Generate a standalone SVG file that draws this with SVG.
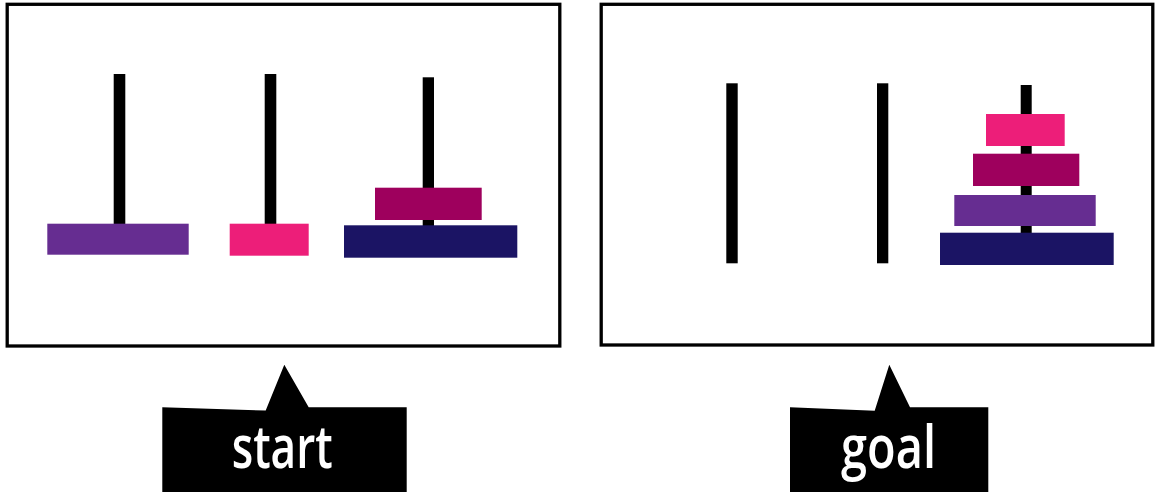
<svg xmlns="http://www.w3.org/2000/svg" width="1155" height="492" viewBox="0 0 1155 492">
  <style>
    .frame { fill: #ffffff; stroke: #000000; stroke-width: 3.3; }
    .peg { fill: #000000; }
    .d-purple { fill: #662D91; }
    .d-pink { fill: #ED1E79; }
    .d-magenta { fill: #9E005D; }
    .d-navy { fill: #1B1464; }
    .callout { fill: #000000; }
    .label { fill: #ffffff; font-family: "Open Sans", "Noto Sans", "Liberation Sans", sans-serif; font-weight: 600; font-size: 60px; }
  </style>
  <rect width="1155" height="492" fill="#ffffff"/>

  <g id="start-panel">
    <rect class="frame" x="7.2" y="4.3" width="552.6" height="341.7"/>
    <rect class="peg" x="113.7" y="74" width="11.6" height="152"/>
    <rect class="peg" x="264.7" y="74" width="11.6" height="152"/>
    <rect class="peg" x="422.7" y="77.3" width="11.3" height="150"/>
    <rect class="d-purple" x="47.3" y="223.7" width="141.4" height="31"/>
    <rect class="d-pink" x="229.7" y="223.7" width="79" height="32"/>
    <rect class="d-magenta" x="375" y="187.7" width="106.7" height="32.3"/>
    <rect class="d-navy" x="344" y="225.3" width="173.3" height="32.4"/>
  </g>

  <g id="goal-panel">
    <rect class="frame" x="601.2" y="4.3" width="551.6" height="340.7"/>
    <rect class="peg" x="726.3" y="83.3" width="11.4" height="180"/>
    <rect class="peg" x="877" y="83.3" width="11.3" height="180"/>
    <rect class="peg" x="1020.7" y="85" width="11" height="179"/>
    <rect class="d-pink" x="986" y="114" width="78.7" height="32"/>
    <rect class="d-magenta" x="973" y="153.7" width="106.3" height="32.3"/>
    <rect class="d-purple" x="954.3" y="195" width="141.4" height="31"/>
    <rect class="d-navy" x="940" y="232.7" width="173.7" height="32.3"/>
  </g>

  <g id="start-label">
    <polygon class="callout" points="162.3,407.3 265.7,410.5 284.3,364.7 308.7,407.3 406.7,407.3 406.7,492 162.3,492"/>
    <text class="label" x="231.7" y="468.3" textLength="101" lengthAdjust="spacingAndGlyphs">start</text>
  </g>

  <g id="goal-label">
    <polygon class="callout" points="790,407.3 874.7,410.7 889.3,364.7 910,407.3 988.3,407.3 988.3,492 790,492"/>
    <text class="label" x="841" y="468.3" textLength="95" lengthAdjust="spacingAndGlyphs">goal</text>
  </g>

  <g id="connectors"/>
</svg>
